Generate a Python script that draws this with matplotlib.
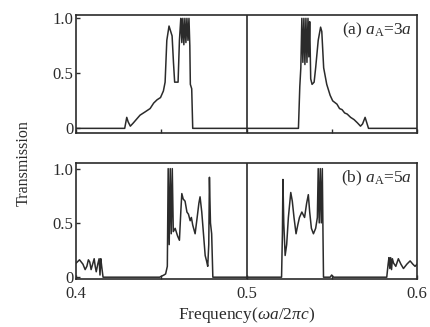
import matplotlib
matplotlib.use('Agg')
import matplotlib.pyplot as plt
from matplotlib.ticker import MultipleLocator

plt.rcParams['font.family'] = ['Liberation Serif', 'DejaVu Serif']
plt.rcParams['mathtext.fontset'] = 'custom'
plt.rcParams['mathtext.rm'] = 'Liberation Serif'
plt.rcParams['mathtext.it'] = 'Liberation Serif:italic'

# panel (a): a_A = 3a
freq_a = [0.4000, 0.4285, 0.4297, 0.4305, 0.4318, 0.4336, 0.4375, 0.4405, 0.4434,
          0.4455, 0.4475, 0.4495, 0.4512, 0.4522, 0.4532, 0.4545, 0.4555, 0.4563,
          0.4571, 0.4578, 0.4590, 0.4598, 0.4606, 0.4610, 0.4614, 0.4620, 0.4626,
          0.4632, 0.4638, 0.4644, 0.4650, 0.4656, 0.4662, 0.4667, 0.4670, 0.4678,
          0.4684, 0.5000,
          0.5304, 0.5312, 0.5318, 0.5324, 0.5330, 0.5336, 0.5342, 0.5348, 0.5354,
          0.5360, 0.5365, 0.5370, 0.5376, 0.5384, 0.5396, 0.5405, 0.5420, 0.5434,
          0.5441, 0.5452, 0.5470, 0.5490, 0.5505, 0.5530, 0.5545, 0.5560, 0.5575,
          0.5590, 0.5610, 0.5630, 0.5650, 0.5668, 0.5680, 0.5695, 0.5705, 0.5715,
          0.6000]
trans_a = [0.00, 0.00, 0.10, 0.06, 0.02, 0.05, 0.12, 0.15, 0.18,
           0.23, 0.26, 0.28, 0.34, 0.42, 0.80, 0.93, 0.88, 0.84,
           0.60, 0.42, 0.42, 0.42, 0.80, 0.90, 1.00, 0.78, 1.00,
           0.76, 1.00, 0.78, 1.00, 0.80, 1.00, 0.75, 0.40, 0.36,
           0.00, 0.00,
           0.00, 0.38, 0.55, 1.00, 0.60, 1.00, 0.58, 1.00, 0.60,
           1.00, 0.65, 0.97, 0.45, 0.40, 0.42, 0.55, 0.80, 0.92,
           0.88, 0.55, 0.40, 0.30, 0.25, 0.22, 0.18, 0.17, 0.14,
           0.13, 0.10, 0.08, 0.05, 0.02, 0.04, 0.10, 0.05, 0.00,
           0.00]

# panel (b): a_A = 5a
freq_b = [0.4000, 0.4020, 0.4040, 0.4053, 0.4063, 0.4072, 0.4080, 0.4088, 0.4097,
          0.4106, 0.4112, 0.4118, 0.4127, 0.4135, 0.4140, 0.4145, 0.4150, 0.4158,
          0.4490, 0.4515, 0.4525, 0.4535, 0.4540, 0.4546, 0.4552, 0.4558, 0.4564,
          0.4570, 0.4581, 0.4595, 0.4606, 0.4614, 0.4620, 0.4628, 0.4639, 0.4650,
          0.4659, 0.4669, 0.4676, 0.4684, 0.4698, 0.4710, 0.4720, 0.4727, 0.4737,
          0.4747, 0.4757, 0.4765, 0.4772, 0.4778, 0.4782, 0.4788, 0.4795, 0.4802,
          0.5000,
          0.5205, 0.5210, 0.5213, 0.5218, 0.5226, 0.5235, 0.5245, 0.5259, 0.5268,
          0.5278, 0.5290, 0.5300, 0.5310, 0.5324, 0.5340, 0.5352, 0.5362, 0.5370,
          0.5380, 0.5392, 0.5405, 0.5415, 0.5420, 0.5426, 0.5432, 0.5438, 0.5444,
          0.5448, 0.5451, 0.5490, 0.5499, 0.5510, 0.5822, 0.5830, 0.5835, 0.5840,
          0.5845, 0.5850, 0.5855, 0.5862, 0.5875, 0.5890, 0.5905, 0.5920, 0.5940,
          0.5959, 0.5975, 0.5988, 0.6000]
trans_b = [0.13, 0.16, 0.12, 0.07, 0.10, 0.16, 0.14, 0.07, 0.12,
           0.17, 0.10, 0.05, 0.12, 0.17, 0.02, 0.17, 0.10, 0.00,
           0.00, 0.02, 0.03, 0.10, 1.00, 0.30, 1.00, 0.40, 1.00,
           0.42, 0.45, 0.38, 0.34, 0.60, 0.77, 0.72, 0.70, 0.60,
           0.58, 0.52, 0.55, 0.48, 0.40, 0.55, 0.68, 0.74, 0.60,
           0.40, 0.20, 0.15, 0.10, 0.30, 0.92, 0.50, 0.40, 0.00,
           0.00,
           0.00, 0.40, 0.90, 0.50, 0.20, 0.30, 0.55, 0.78, 0.70,
           0.55, 0.40, 0.48, 0.55, 0.60, 0.55, 0.68, 0.76, 0.60,
           0.45, 0.40, 0.45, 0.55, 1.00, 0.50, 1.00, 0.50, 1.00,
           0.40, 0.00, 0.00, 0.02, 0.00, 0.00, 0.12, 0.18, 0.08,
           0.18, 0.07, 0.17, 0.13, 0.10, 0.17, 0.12, 0.08, 0.12,
           0.15, 0.12, 0.10, 0.12]

band_centre = 0.5
labels = [r'(a) $a_{\rm A}$=3$a$', r'(b) $a_{\rm A}$=5$a$']

ink = '#2b2b2b'
fig = plt.figure(figsize=(4.3, 3.27), dpi=100)
ax_a = fig.add_axes([0.177, 0.593, 0.793, 0.362])
ax_b = fig.add_axes([0.177, 0.147, 0.793, 0.354])

for ax, f, t, lab, ylo, yhi in [(ax_a, freq_a, trans_a, labels[0], -0.043, 1.033),
                                (ax_b, freq_b, trans_b, labels[1], -0.016, 1.05)]:
    ax.plot(f, t, color=ink, lw=1.1)
    ax.axvline(band_centre, color=ink, lw=1.2)
    ax.set_xlim(0.4, 0.6)
    ax.set_ylim(ylo, yhi)
    ax.set_yticks([0, 0.5, 1.0])
    ax.set_yticklabels(['0', '0.5', '1.0'])
    ax.xaxis.set_major_locator(MultipleLocator(0.1))
    ax.xaxis.set_minor_locator(MultipleLocator(0.05))
    ax.tick_params(direction='in', length=3, width=1.0, colors=ink,
                   labelsize=12, top=False, right=False, pad=2)
    ax.tick_params(axis='x', pad=5)
    ax.tick_params(which='minor', direction='in', length=3, width=1.0, colors=ink)
    for s in ax.spines.values():
        s.set_linewidth(1.2)
        s.set_color(ink)
    ax.text(0.985, 0.95, lab, transform=ax.transAxes, ha='right', va='top',
            fontsize=12.5, color=ink)

ax_a.tick_params(labelbottom=False)
ax_b.set_xticks([0.4, 0.5, 0.6])
ax_b.set_xticklabels(['0.4', '0.5', '0.6'])
ax_b.set_xlabel(r'Frequency($\omega a/2\pi c$)', fontsize=12.5, color=ink, labelpad=2)
fig.text(0.055, 0.5, 'Transmission', rotation=90, ha='center', va='center',
         fontsize=11.5, color=ink)

fig.savefig('out.png', dpi=100)
